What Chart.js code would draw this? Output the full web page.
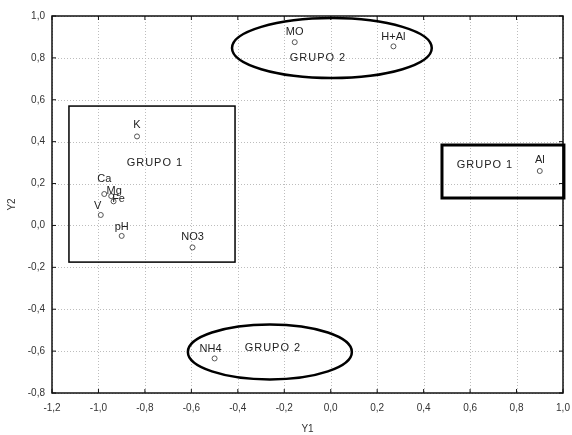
<!DOCTYPE html>
<html>
<head>
<meta charset="utf-8">
<script src="https://cdn.jsdelivr.net/npm/chart.js@4"></script>
<style>
html,body{margin:0;padding:0;background:#fff;}
#wrap{width:572px;height:435px;position:relative;}
</style>
</head>
<body>
<div id="wrap"><canvas id="c" width="572" height="435"></canvas></div>
<script>
// ---- data ----
const pointNames = ["K", "Ca", "Mg", "Fe", "V", "pH", "NO3", "MO", "H+Al", "Al", "NH4"];
const pointY1 = [-0.834, -0.975, -0.945, -0.935, -0.99, -0.90, -0.595, -0.155, 0.27, 0.90, -0.50];
const pointY2 = [0.425, 0.15, 0.14, 0.115, 0.05, -0.05, -0.105, 0.875, 0.855, 0.26, -0.635];
const xTicks = [-1.2, -1.0, -0.8, -0.6, -0.4, -0.2, 0.0, 0.2, 0.4, 0.6, 0.8, 1.0];
const yTicks = [-0.8, -0.6, -0.4, -0.2, 0.0, 0.2, 0.4, 0.6, 0.8, 1.0];
// groups: rectangles [x1, x2, y1, y2] and ellipses [cx, cy, rx, ry] in data units
const rectGroups = [[-1.127, -0.412, -0.175, 0.570], [0.479, 1.004, 0.131, 0.384]];
const ellipseGroups = [[0.005, 0.847, 0.43, 0.143], [-0.262, -0.604, 0.353, 0.131]];
const groupTexts = ["GRUPO 1", "GRUPO 2", "GRUPO 1", "GRUPO 2"];
const groupTextX = [-0.757, -0.055, 0.664, -0.249];
const groupTextY = [0.298, 0.80, 0.289, -0.585];

// ---- styling (label offsets in px) ----
const labelOffsets = [[0,-11],[0,-15],[3,-5],[5,-2],[-3,-9],[0,-9],[0,-10],[0,-10],[0,-9],[0,-11],[-4,-9]];
const rectWidths = [1.5, 3];
const ellipseWidths = [2.5, 2.5];

const fmt = v => (Math.abs(v) < 1e-9 ? 0 : v).toFixed(1).replace('.', ',');
const FONT = '"Liberation Sans", Arial, sans-serif';

const overlay = {
  id: 'overlay',
  beforeDatasetsDraw(chart) {
    // dotted grid
    const ctx = chart.ctx, xs = chart.scales.x, ys = chart.scales.y, a = chart.chartArea;
    ctx.save();
    ctx.strokeStyle = '#bdbdbd'; ctx.lineWidth = 1; ctx.setLineDash([1, 2]);
    xTicks.forEach(v => {
      const p = Math.round(xs.getPixelForValue(v)) + 0.5;
      ctx.beginPath(); ctx.moveTo(p, a.top); ctx.lineTo(p, a.bottom); ctx.stroke();
    });
    yTicks.forEach(v => {
      const p = Math.round(ys.getPixelForValue(v)) + 0.5;
      ctx.beginPath(); ctx.moveTo(a.left, p); ctx.lineTo(a.right, p); ctx.stroke();
    });
    ctx.restore();
  },
  afterDatasetsDraw(chart) {
    const ctx = chart.ctx, xs = chart.scales.x, ys = chart.scales.y, a = chart.chartArea;
    ctx.save();
    // frame
    ctx.strokeStyle = '#111'; ctx.lineWidth = 1.5;
    ctx.strokeRect(a.left, a.top, a.right - a.left, a.bottom - a.top);
    // inward tick marks
    ctx.lineWidth = 1;
    xTicks.forEach(v => {
      const p = xs.getPixelForValue(v);
      ctx.beginPath(); ctx.moveTo(p, a.bottom); ctx.lineTo(p, a.bottom - 4);
      ctx.moveTo(p, a.top); ctx.lineTo(p, a.top + 4); ctx.stroke();
    });
    yTicks.forEach(v => {
      const p = ys.getPixelForValue(v);
      ctx.beginPath(); ctx.moveTo(a.left, p); ctx.lineTo(a.left + 4, p);
      ctx.moveTo(a.right, p); ctx.lineTo(a.right - 4, p); ctx.stroke();
    });
    // rectangles
    ctx.strokeStyle = '#000';
    rectGroups.forEach((r, i) => {
      const x1 = xs.getPixelForValue(r[0]), x2 = xs.getPixelForValue(r[1]);
      const y1 = ys.getPixelForValue(r[3]), y2 = ys.getPixelForValue(r[2]);
      ctx.lineWidth = rectWidths[i];
      ctx.strokeRect(x1, y1, x2 - x1, y2 - y1);
    });
    // ellipses
    ellipseGroups.forEach((e, i) => {
      const cx = xs.getPixelForValue(e[0]), cy = ys.getPixelForValue(e[1]);
      const rx = Math.abs(xs.getPixelForValue(e[0] + e[2]) - cx);
      const ry = Math.abs(ys.getPixelForValue(e[1] + e[3]) - cy);
      ctx.lineWidth = ellipseWidths[i];
      ctx.beginPath(); ctx.ellipse(cx, cy, rx, ry, 0, 0, Math.PI * 2); ctx.stroke();
    });
    // group texts
    ctx.fillStyle = '#222';
    ctx.font = '11px ' + FONT;
    ctx.textAlign = 'center'; ctx.textBaseline = 'middle';
    try { ctx.letterSpacing = '1px'; } catch (e) {}
    groupTexts.forEach((t, i) => {
      ctx.fillText(t, xs.getPixelForValue(groupTextX[i]), ys.getPixelForValue(groupTextY[i]));
    });
    try { ctx.letterSpacing = '0px'; } catch (e) {}
    // point labels
    ctx.font = '11px ' + FONT;
    pointNames.forEach((n, i) => {
      const px = xs.getPixelForValue(pointY1[i]), py = ys.getPixelForValue(pointY2[i]);
      ctx.fillText(n, px + labelOffsets[i][0], py + labelOffsets[i][1]);
    });
    ctx.restore();
  }
};

new Chart(document.getElementById('c'), {
  type: 'scatter',
  data: {
    datasets: [{
      data: pointNames.map((n, i) => ({ x: pointY1[i], y: pointY2[i] })),
      pointStyle: 'circle',
      pointRadius: 2.5,
      pointBorderWidth: 1,
      borderColor: '#555',
      backgroundColor: '#fff'
    }]
  },
  options: {
    responsive: false,
    animation: false,
    devicePixelRatio: 1,
    layout: { padding: { top: 16, right: 9, left: 0, bottom: 0 } },
    plugins: { legend: { display: false }, tooltip: { enabled: false } },
    scales: {
      x: {
        type: 'linear', min: -1.2, max: 1.0,
        afterBuildTicks: s => { s.ticks = xTicks.map(v => ({ value: v })); },
        afterFit: s => { s.height = 42; s.paddingRight = 0; },
        ticks: { callback: v => fmt(v), color: '#333', padding: 9, font: { size: 10, family: FONT } },
        grid: { display: false, drawTicks: false },
        border: { display: false },
        title: { display: true, text: 'Y1', color: '#333', font: { size: 10, family: FONT }, padding: { top: 10, bottom: 0 } }
      },
      y: {
        type: 'linear', min: -0.8, max: 1.0,
        afterBuildTicks: s => { s.ticks = yTicks.map(v => ({ value: v })); },
        afterFit: s => { s.width = 52; },
        ticks: { callback: v => fmt(v), color: '#333', padding: 7, font: { size: 10, family: FONT } },
        grid: { display: false, drawTicks: false },
        border: { display: false },
        title: { display: true, text: 'Y2', color: '#333', font: { size: 10, family: FONT }, padding: { top: 6, bottom: 4 } }
      }
    }
  },
  plugins: [overlay]
});
</script>
</body>
</html>
